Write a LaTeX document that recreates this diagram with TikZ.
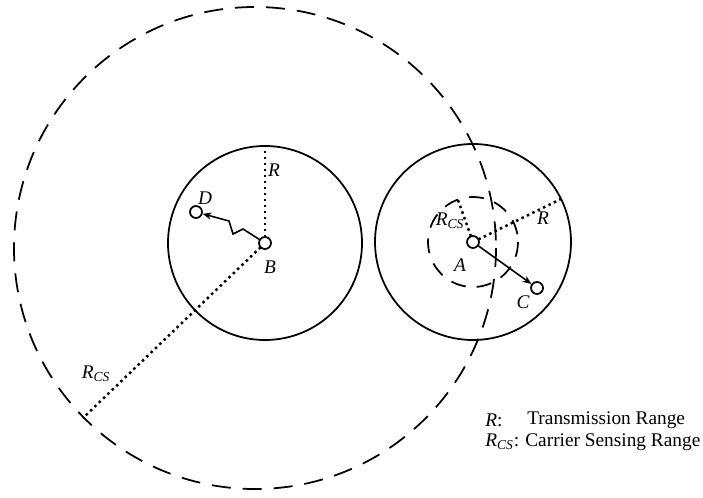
\documentclass[tikz,border=0pt]{standalone}
\usepackage{fontspec}
\setmainfont{Liberation Serif}
\usetikzlibrary{arrows.meta, positioning, calc}

\begin{document}
\begin{tikzpicture}[x=0.02cm, y=-0.02cm,
        station/.style={circle, draw, line width=1pt, fill=white, inner sep=0pt, minimum size=0.24cm},
        txrange/.style={draw, line width=1pt},
        csrange/.style={draw, line width=1pt, dash pattern=on 0.38cm off 0.24cm},
        cssmall/.style={draw, line width=1pt, dash pattern=on 0.3cm off 0.22cm},
        radius line/.style={line width=1.4pt, dash pattern=on 0.05cm off 0.07cm},
        lbl/.style={font=\fontsize{11}{13}\selectfont\itshape, inner sep=1pt},
        legend/.style={font=\fontsize{11}{13}\selectfont, anchor=west, inner sep=0pt}
    ]
        \useasboundingbox (0,0) rectangle (703,497);

        % carrier sensing range of B
        \coordinate (csB) at (255,248);
        \draw[csrange] (csB) circle [radius=241];

        % transmission ranges
        \coordinate (cB) at (265,243);
        \coordinate (cA) at (473,242);
        \draw[txrange] (cB) circle [radius=97];
        \draw[txrange] (cA) circle [radius=98];
        \draw[cssmall] (cA) circle [radius=45];

        % radius markers
        \coordinate (topB) at (265,146);
        \coordinate (csEnd) at (83,418);
        \coordinate (rA) at (561,199);
        \coordinate (csA) at (458,200);
        \draw[radius line] (cB) -- (topB);
        \draw[radius line] (cB) -- (csEnd);
        \draw[radius line] (cA) -- (rA);
        \draw[radius line] (cA) -- (csA);

        % stations
        \node[station] (B) at (cB) {};
        \node[station] (A) at (cA) {};
        \node[station] (D) at (196,212) {};
        \node[station] (C) at (537,288) {};

        % links
        \draw[line width=0.9pt, -{Stealth[length=5pt, width=4pt]}] (B) -- (243,229) -- (233,234) -- (229,221) -- (D);
        \draw[line width=0.9pt, -{Stealth[length=5pt, width=4pt]}] (A) -- (C);

        % labels
        \node[lbl] (labD) at (205,198) {D};
        \node[lbl] (labB) at (270,267) {B};
        \node[lbl] (labA) at (460,265) {A};
        \node[lbl] (labC) at (523,302) {C};
        \node[lbl] (labRB) at (274,170) {R};
        \node[lbl] (labRA) at (543,218) {R};
        \node[lbl] (labCsA) at (450,221) {R\textsubscript{CS}};
        \node[lbl] (labCsB) at (96,374) {R\textsubscript{CS}};

        % legend
        \node[legend] (legR) at (485,420) {\textit{R}:};
        \node[legend] (legRtxt) at (527,420) {Transmission Range};
        \node[legend] (legCs) at (485,442) {\textit{R}\textsubscript{\textit{CS}}:};
        \node[legend] (legCstxt) at (525,442) {Carrier Sensing Range};
    \end{tikzpicture}
\end{document}
